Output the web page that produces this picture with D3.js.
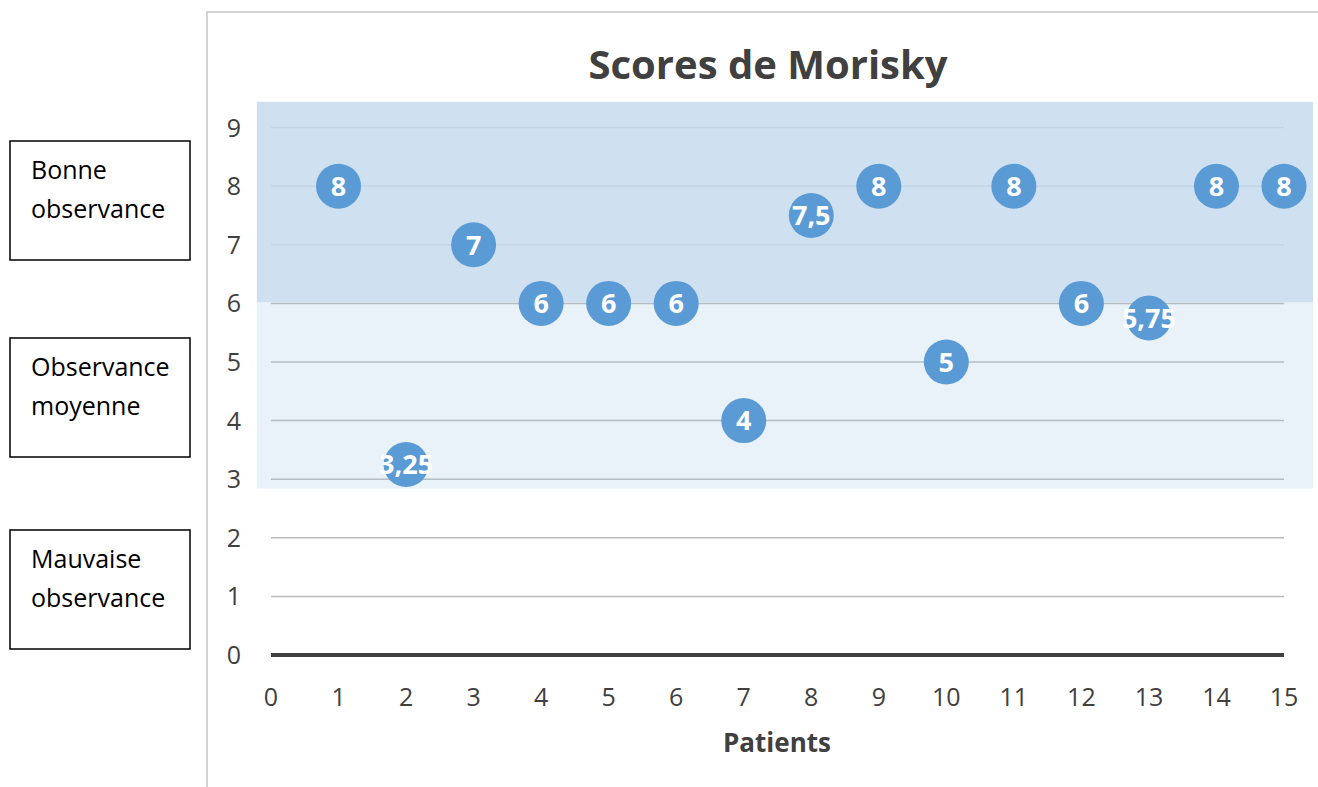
<!DOCTYPE html>
<html>
<head>
<meta charset="utf-8">
<script src="https://cdn.jsdelivr.net/npm/d3@7"></script>
<style>
  body { margin: 0; background: #fff; }
  svg { display: block; font-family: "Open Sans", "Noto Sans", sans-serif; }
</style>
</head>
<body>
<div id="chart"></div>
<script>
// data
const patients = [1, 2, 3, 4, 5, 6, 7, 8, 9, 10, 11, 12, 13, 14, 15];
const scores = [8, 3.25, 7, 6, 6, 6, 4, 7.5, 8, 5, 8, 6, 5.75, 8, 8];
const xTicks = d3.range(0, 16);
const yTicks = d3.range(0, 10);
const bandTops = [9.44, 6.02];
const bandBottoms = [6.02, 2.84];
const bandFill = ["#c5daee", "#9bbfe3"];
const bandOpacity = [0.83, 0.22];
const boxLabels = [["Bonne", "observance"], ["Observance", "moyenne"], ["Mauvaise", "observance"]];

const width = 1318, height = 787;
const svg = d3.select("#chart").append("svg")
    .attr("width", width)
    .attr("height", height);

const x = d3.scaleLinear().domain([0, 15]).range([271, 1284]);
const y = d3.scaleLinear().domain([0, 9]).range([655, 127.6]);
const fmt = v => String(v).replace(".", ",");

// chart frame (only top and left edges are visible)
svg.append("path")
    .attr("d", "M207,787V12H1318")
    .attr("fill", "none")
    .attr("stroke", "#d4d4d4")
    .attr("stroke-width", 2);

// gridlines
svg.append("g").selectAll("line")
    .data(yTicks.filter(d => d > 0))
    .enter().append("line")
    .attr("x1", x(0)).attr("x2", x(15))
    .attr("y1", d => y(d)).attr("y2", d => y(d))
    .attr("stroke", "#bcbcbc")
    .attr("stroke-width", 1.5);

// observance bands
svg.append("g").selectAll("rect")
    .data(bandTops)
    .enter().append("rect")
    .attr("x", x(-0.21))
    .attr("width", x(15.43) - x(-0.21))
    .attr("y", d => y(d))
    .attr("height", (d, i) => y(bandBottoms[i]) - y(d))
    .attr("fill", (d, i) => bandFill[i])
    .attr("fill-opacity", (d, i) => bandOpacity[i]);

// y axis labels
svg.append("g").selectAll("text")
    .data(yTicks)
    .enter().append("text")
    .attr("x", 241)
    .attr("y", d => y(d))
    .attr("dy", "0.36em")
    .attr("text-anchor", "end")
    .attr("font-size", 25)
    .attr("fill", "#404040")
    .text(d => d);

// x axis line
svg.append("line")
    .attr("x1", x(0)).attr("x2", x(15))
    .attr("y1", y(0)).attr("y2", y(0))
    .attr("stroke", "#404040")
    .attr("stroke-width", 4);

// x axis labels
svg.append("g").selectAll("text")
    .data(xTicks)
    .enter().append("text")
    .attr("x", d => x(d))
    .attr("y", 697)
    .attr("dy", "0.36em")
    .attr("text-anchor", "middle")
    .attr("font-size", 25)
    .attr("fill", "#404040")
    .text(d => d);

// titles
svg.append("text")
    .attr("x", 768).attr("y", 65)
    .attr("dy", "0.36em")
    .attr("text-anchor", "middle")
    .attr("font-size", 40)
    .attr("font-weight", "bold")
    .attr("fill", "#404040")
    .text("Scores de Morisky");

svg.append("text")
    .attr("x", 777).attr("y", 743)
    .attr("dy", "0.36em")
    .attr("text-anchor", "middle")
    .attr("font-size", 26)
    .attr("font-weight", "bold")
    .attr("fill", "#404040")
    .text("Patients");

// points
const pts = svg.append("g").selectAll("g")
    .data(patients)
    .enter().append("g")
    .attr("transform", (d, i) => `translate(${x(d)},${y(scores[i])})`);

pts.append("circle")
    .attr("r", 22.5)
    .attr("fill", "#5b9bd5");

pts.append("text")
    .attr("dy", "0.36em")
    .attr("text-anchor", "middle")
    .attr("font-size", 27)
    .attr("font-weight", "bold")
    .attr("fill", "#fff")
    .text((d, i) => fmt(scores[i]));

// side boxes
const boxTop = [141, 338, 530];
const boxes = svg.append("g").selectAll("g")
    .data(boxLabels)
    .enter().append("g")
    .attr("transform", (d, i) => `translate(10,${boxTop[i]})`);

boxes.append("rect")
    .attr("width", 180).attr("height", 119)
    .attr("fill", "#fff")
    .attr("stroke", "#000")
    .attr("stroke-width", 1.5);

boxes.selectAll("text")
    .data(d => d)
    .enter().append("text")
    .attr("x", 21)
    .attr("y", (d, i) => 29 + i * 39)
    .attr("dy", "0.36em")
    .attr("font-size", 25)
    .attr("fill", "#000")
    .text(d => d);
</script>
</body>
</html>
